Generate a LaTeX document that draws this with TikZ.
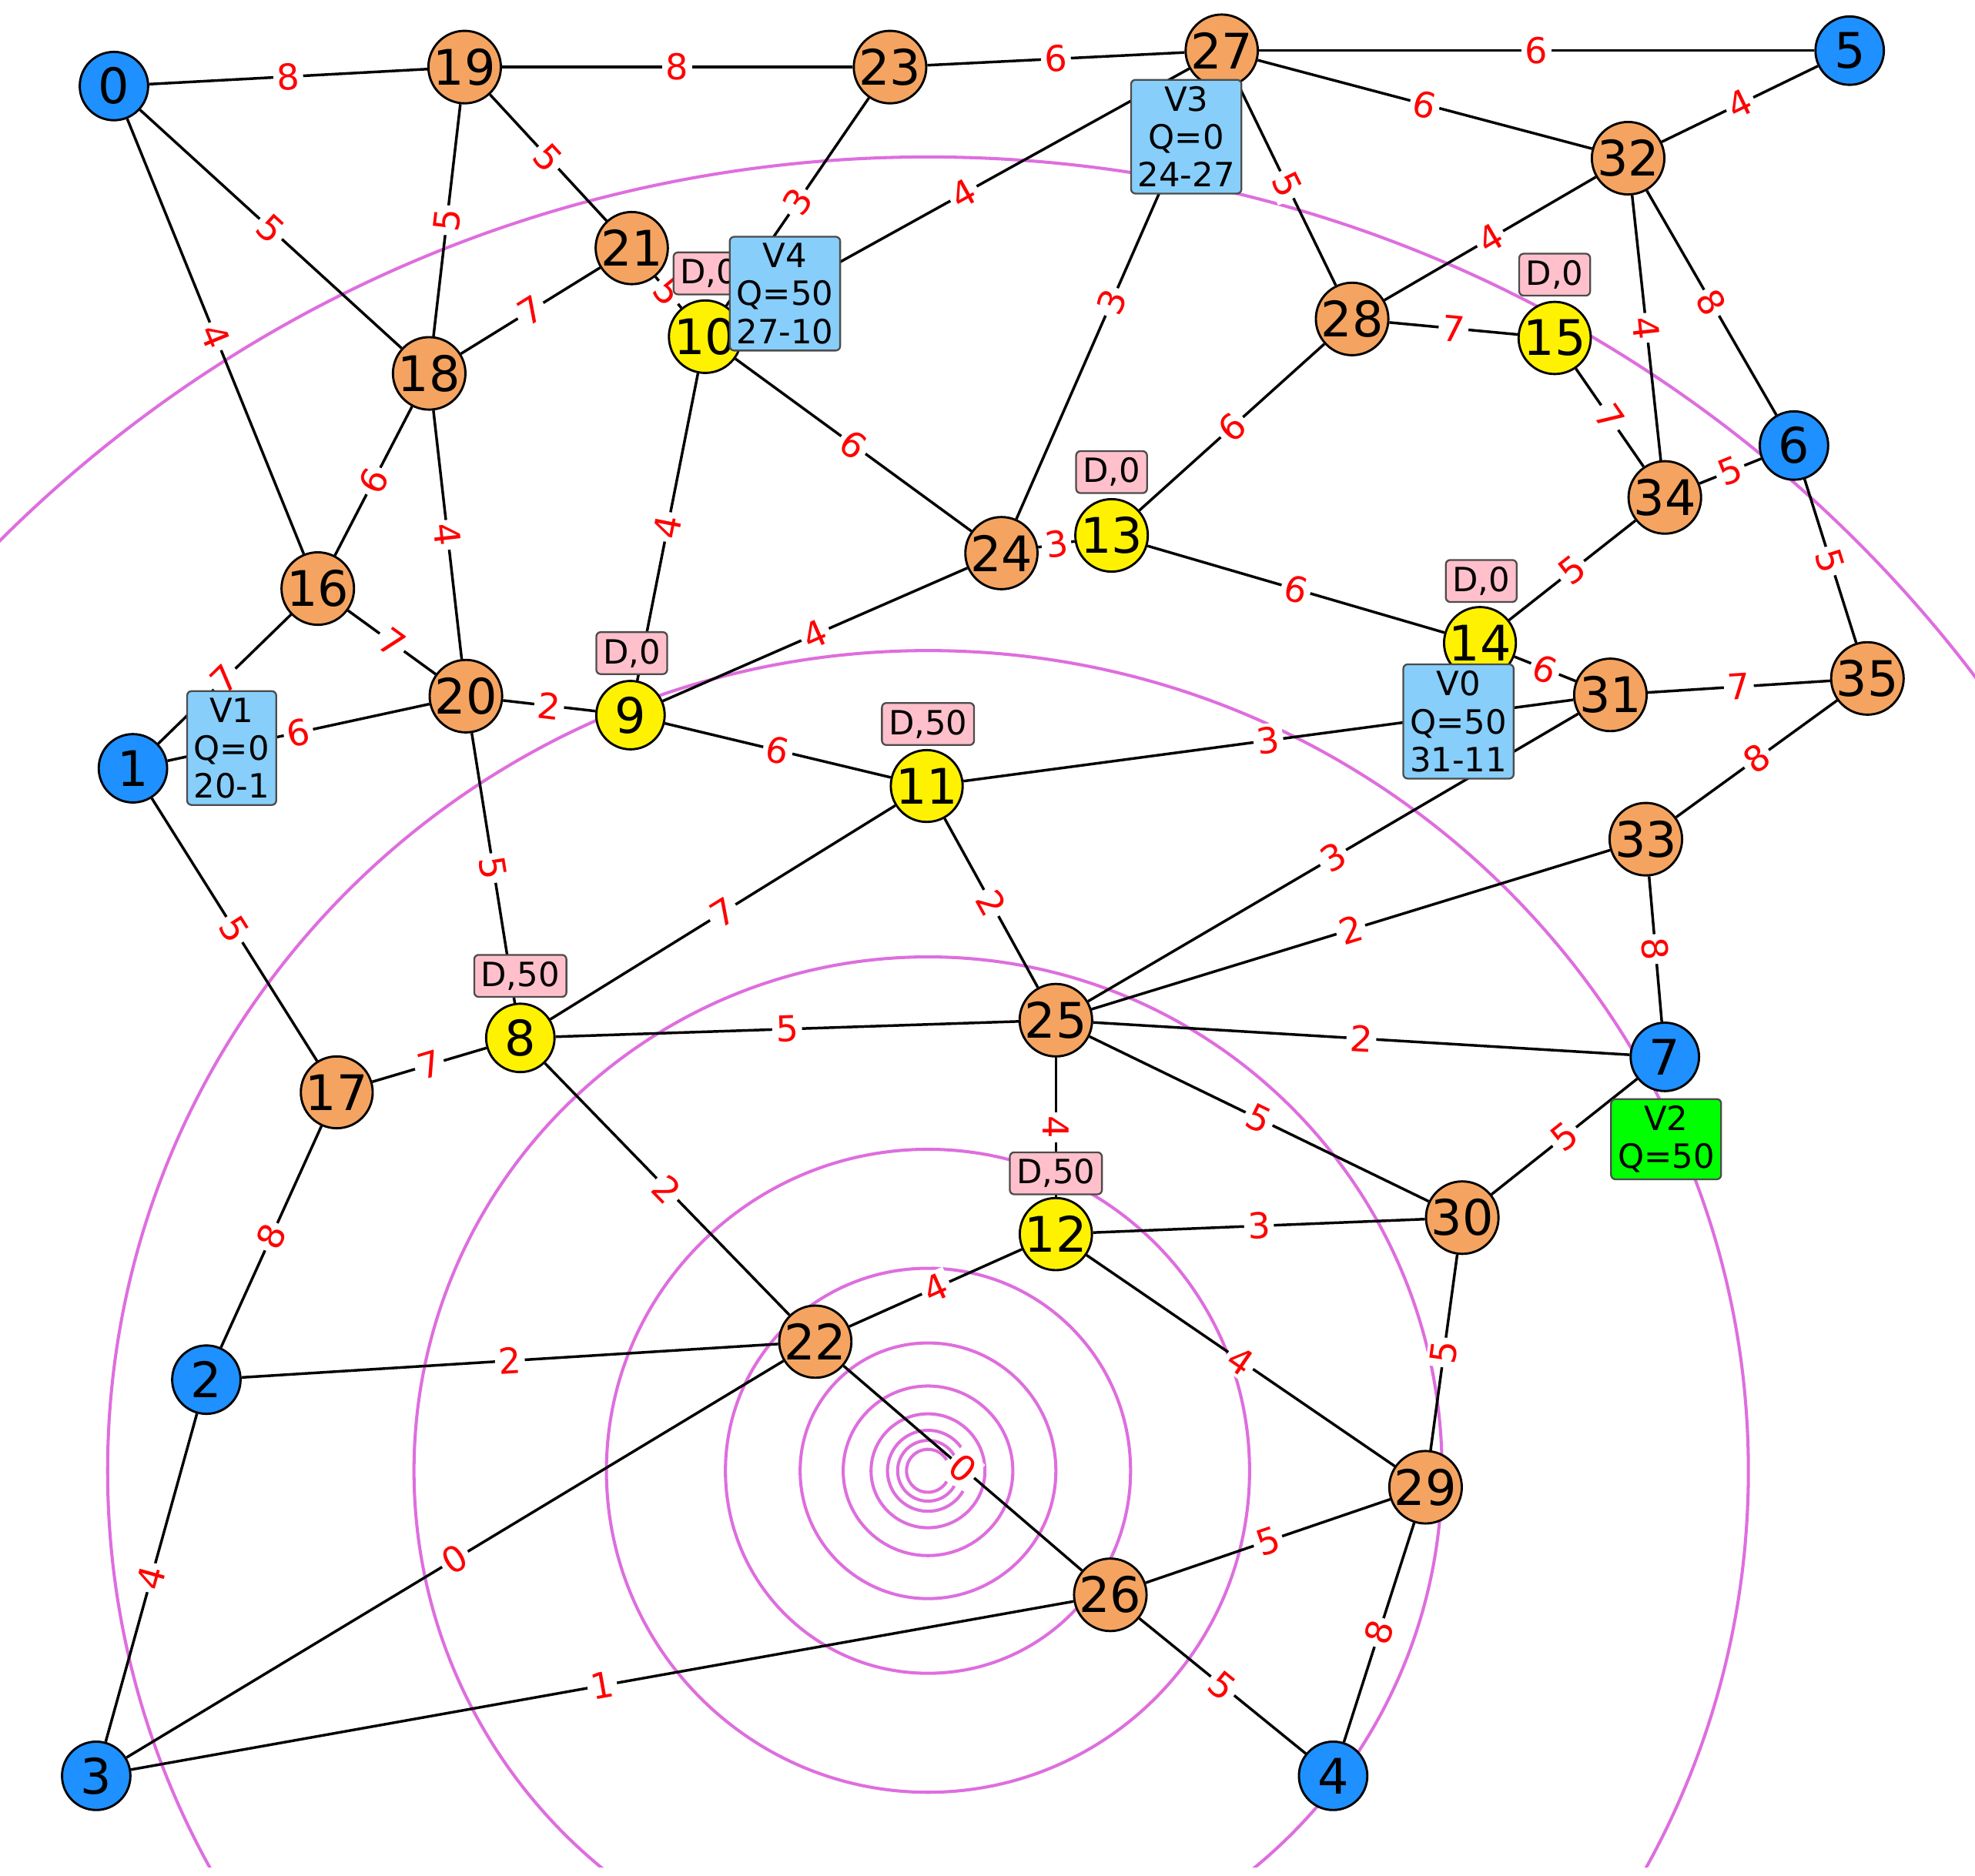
\documentclass[tikz,border=0pt]{standalone}
\usepackage{fontspec}
\setmainfont{DejaVu Sans}
\usetikzlibrary{backgrounds}
\definecolor{vblue}{RGB}{30,144,255}
\definecolor{vorange}{RGB}{244,164,96}
\definecolor{vpink}{RGB}{255,192,203}
\definecolor{vlblue}{RGB}{135,206,250}
\definecolor{vspiral}{RGB}{222,110,222}
\tikzset{
 vx/.style={circle,draw=black,line width=0.5pt,minimum size=0.54cm,inner sep=0pt,font=\fontsize{11}{11}\selectfont},
 bl/.style={vx,fill=vblue},
 og/.style={vx,fill=vorange},
 yl/.style={vx,fill=yellow},
 wl/.style={midway,sloped,fill=white,text=red,inner sep=0.8pt,font=\fontsize{8}{8}\selectfont},
 tag/.style={draw=black!70,rounded corners=1pt,fill=vpink,inner sep=1.5pt,font=\fontsize{7.5}{8}\selectfont},
 vbox/.style={draw=black!70,rounded corners=1pt,fill=vlblue,inner sep=1.5pt,align=center,font=\fontsize{7.5}{8.5}\selectfont},
 sp/.style={vspiral,line width=0.7pt},
}
\begin{document}
\begin{tikzpicture}[x=0.01cm,y=-0.01cm]
\useasboundingbox (0,0) rectangle (1560,1482);
\foreach \n/\x/\y/\s in {0/90/68/bl,1/105/607/bl,2/163/1090/bl,3/76/1403/bl,4/1053/1403/bl,5/1461/40/bl,6/1417/352/bl,7/1315/835/bl,
 8/411/820/yl,9/498/565/yl,10/557/266/yl,11/732/621/yl,12/834/975/yl,13/878/423/yl,14/1169/508/yl,15/1228/267/yl,
 16/251/465/og,17/266/863/og,18/339/295/og,19/367/53/og,20/368/550/og,21/499/196/og,22/644/1060/og,23/703/53/og,24/791/437/og,
 25/834/806/og,26/877/1260/og,27/965/40/og,28/1068/252/og,29/1126/1175/og,30/1155/962/og,31/1272/549/og,32/1286/125/og,
 33/1300/663/og,34/1315/393/og,35/1475/536/og}
 \node[\s] (n\n) at (\x,\y) {\n};
\begin{scope}[on background layer]
 \begin{scope}
 \clip (0,0) rectangle (1560,1475);
 \coordinate (sc) at (733,1162);
 \foreach \r in {1038,648,406,254,160,101,67,45}
  \draw[sp] (sc) circle[radius=\r];
 \foreach \r in {32,24,17}
  \draw[sp] (sc) ++(30:\r) arc[start angle=30,end angle=330,radius=\r];
 \end{scope}
 \foreach \a/\b/\w in {0/19/8,19/23/8,23/27/6,27/5/6,27/32/6,32/5/4,0/18/5,0/16/4,19/18/5,19/21/5,21/18/7,23/10/3,27/10/4,21/10/5,
  27/28/5,27/24/3,32/28/4,32/6/8,32/34/4,28/15/7,28/13/6,15/34/7,34/6/5,34/14/5,6/35/5,35/31/7,35/33/8,18/16/6,18/20/4,16/20/7,
  16/1/7,1/20/6,20/9/2,20/8/5,10/9/4,10/24/6,24/13/3,24/9/4,13/14/6,14/31/6,9/11/6,11/31/3,11/8/7,11/25/2,31/25/3,33/25/2,33/7/8,
  25/7/2,25/8/5,25/12/4,25/30/5,7/30/5,1/17/5,17/8/7,17/2/8,8/22/2,12/22/4,12/30/3,12/29/4,30/29/5,2/22/2,2/3/4,22/3/0,22/26/0,
  3/26/1,26/29/5,26/4/5,29/4/8}
  \draw[line width=0.6pt] (n\a) -- node[wl]{\w} (n\b);
\end{scope}
\foreach \x/\y/\t in {560/216/{D,0},1228/217/{D,0},878/373/{D,0},1170/459/{D,0},499/516/{D,0},733/572/{D,50},411/771/{D,50},834/927/{D,50}}
 \node[tag] at (\x,\y) {\t};
\node[vbox] (v4) at (620,232) {V4\\Q=50\\27-10};
\node[vbox] (v3) at (937,108) {V3\\Q=0\\24-27};
\node[vbox] (v1) at (183,591) {V1\\Q=0\\20-1};
\node[vbox] (v0) at (1152,570) {V0\\Q=50\\31-11};
\node[vbox,fill=green] (v2) at (1316,900) {V2\\Q=50};
\end{tikzpicture}
\end{document}
